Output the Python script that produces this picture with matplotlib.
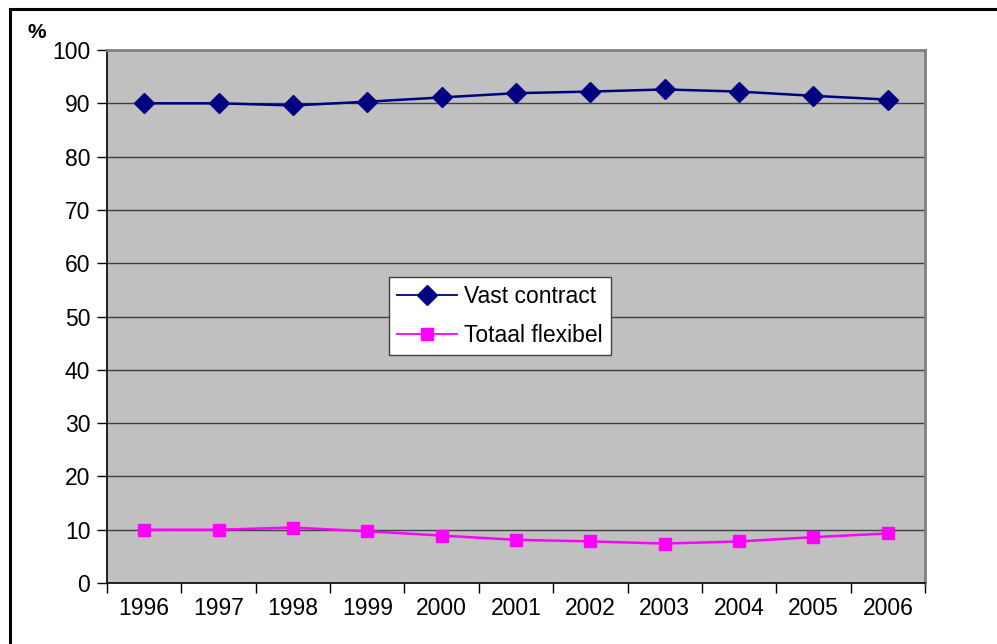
import numpy as np
import matplotlib.pyplot as plt
from matplotlib.patches import Rectangle

plt.rcParams['font.family'] = ['Liberation Sans', 'DejaVu Sans']

years = ['1996', '1997', '1998', '1999', '2000', '2001', '2002', '2003', '2004', '2005', '2006']
vast_contract = [90.0, 90.0, 89.6, 90.3, 91.1, 91.9, 92.2, 92.6, 92.2, 91.4, 90.7]
totaal_flexibel = [10.0, 10.0, 10.4, 9.7, 8.9, 8.1, 7.8, 7.4, 7.8, 8.6, 9.3]

W, H = 997, 644
fig = plt.figure(figsize=(W / 100, H / 100), dpi=100)
ax = fig.add_axes([107 / W, 1 - 583 / H, (925 - 107) / W, (583 - 50) / H])

# outer frame of the chart (only top and left visible)
fig.patches.append(Rectangle((10 / W, -0.1), 1.2, 1 - 9 / H + 0.1, transform=fig.transFigure,
                             fill=False, edgecolor='black', linewidth=2.2))

x = np.arange(len(years))
ax.set_facecolor('#C0C0C0')
ax.plot(x, vast_contract, color='#000080', marker='D', markersize=10.5, linewidth=1.8,
        label='Vast contract', zorder=3)
ax.plot(x, totaal_flexibel, color='#FF00FF', marker='s', markersize=9, linewidth=1.8,
        label='Totaal flexibel', zorder=3)

ax.set_xlim(-0.5, len(years) - 0.5)
ax.set_ylim(0, 100)
ax.set_yticks(range(0, 101, 10))
ax.yaxis.grid(True, color='#404040', linewidth=1)
ax.set_axisbelow(True)

ax.set_xticks(np.arange(-0.5, len(years), 1))
ax.set_xticklabels([])
ax.set_xticks(x, minor=True)
ax.set_xticklabels(years, minor=True)
ax.tick_params(axis='x', which='major', direction='out', length=7, width=1, color='black')
ax.tick_params(axis='x', which='minor', length=0, pad=10, labelsize=16.5)
ax.tick_params(axis='y', direction='out', length=7, width=1, labelsize=16.5, pad=5)

for side in ['left', 'bottom']:
    ax.spines[side].set_color('black')
    ax.spines[side].set_linewidth(1.2)
for side in ['top', 'right']:
    ax.spines[side].set_color('#808080')
    ax.spines[side].set_linewidth(2)

fig.text(37 / W, 1 - 33 / H, '%', fontsize=15, fontweight='bold', ha='center', va='center')

leg = ax.legend(loc='center', bbox_to_anchor=((500 - 107) / (925 - 107), (583 - 316) / (583 - 50)),
                fontsize=16.5, frameon=True, fancybox=False, edgecolor='#404040',
                framealpha=1, handlelength=2.6, borderpad=0.35, labelspacing=0.7,
                handletextpad=0.3, borderaxespad=0)
leg.get_frame().set_linewidth(1)
for line in leg.get_lines():
    line.set_linewidth(1.3)

fig.savefig('out.png', dpi=100)
